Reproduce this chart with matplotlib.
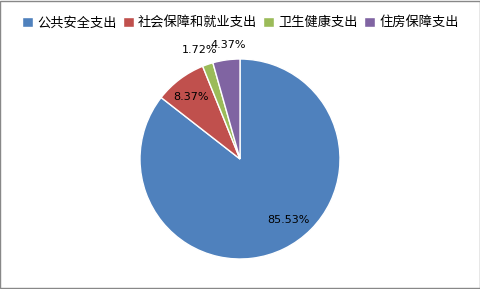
import matplotlib
matplotlib.use("Agg")
import matplotlib.pyplot as plt
from matplotlib.patches import Rectangle

plt.rcParams['font.family'] = ['Noto Sans CJK SC', 'DejaVu Sans']

categories = ['公共安全支出', '社会保障和就业支出', '卫生健康支出', '住房保障支出']
shares = [85.53, 8.37, 1.72, 4.37]
colors = ['#4F81BD', '#C0504D', '#9BBB59', '#8064A2']

# label anchor positions (in pie-radius units)
label_pos = [(0.48, -0.61), (-0.49, 0.62), (-0.40, 1.09), (-0.12, 1.14)]

fig = plt.figure(figsize=(4.81, 2.89), dpi=100)
ax = fig.add_axes([0, 0, 1, 1])

wedges, _ = ax.pie(shares, colors=colors, startangle=90, counterclock=False,
                   radius=1.0, center=(0, 0),
                   wedgeprops=dict(edgecolor='white', linewidth=1.0))

for v, (x, y) in zip(shares, label_pos):
    ax.text(x, y, f'{v:.2f}%', ha='center', va='center', fontsize=8,
            color='#000000', family=['DejaVu Sans'])

ax.set_xlim(-2.40, 2.41)
ax.set_ylim(-1.30, 1.59)
ax.set_aspect('auto')
ax.axis('off')

fig.legend(wedges, categories, loc='upper center', bbox_to_anchor=(0.5, 0.985),
           ncol=4, frameon=False, fontsize=9.5, handlelength=0.8, handleheight=0.8,
           handletextpad=0.35, columnspacing=0.45)

fig.patches.append(Rectangle((0.001, 0.002), 0.997, 0.995, transform=fig.transFigure,
                             fill=False, edgecolor='#888888', linewidth=1.0))

fig.savefig('out.png', dpi=100)
